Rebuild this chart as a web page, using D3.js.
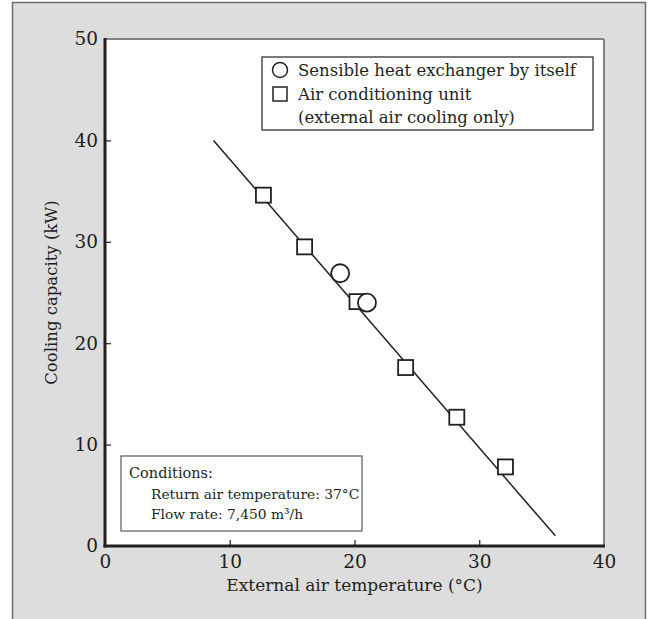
<!DOCTYPE html>
<html><head><meta charset="utf-8">
<script src="https://cdn.jsdelivr.net/npm/d3@7"></script>
<style>html,body{margin:0;padding:0;background:#fff;}svg{display:block;}</style>
</head><body>
<svg id="chart" width="650" height="619"></svg>
<script>
// ---- data ----
const xTicks = [0, 10, 20, 30, 40];
const yTicks = [0, 10, 20, 30, 40, 50];
const squareX = [12.7, 16.0, 20.2, 24.1, 28.2, 32.1];
const squareY = [34.6, 29.5, 24.1, 17.6, 12.7, 7.8];
const circleX = [18.85, 21.0];
const circleY = [26.9, 24.0];
const lineX = [8.7, 36.1];
const lineY = [40.0, 1.0];
const legendLabels = ["Sensible heat exchanger by itself", "Air conditioning unit", "(external air cooling only)"];
const conditionLines = ["Conditions:", "Return air temperature: 37\u00B0C", "Flow rate: 7,450 m\u00B3/h"];
const xTitle = "External air temperature (\u00B0C)";
const yTitle = "Cooling capacity (kW)";

// ---- drawing ----
const FONT = "'DejaVu Serif', serif";
const INK = "#231f20";
const svg = d3.select("#chart");
const x = d3.scaleLinear().domain([0, 40]).range([105, 604]);
const y = d3.scaleLinear().domain([0, 50]).range([546, 39]);

svg.append("rect").attr("x", 12.5).attr("y", 2.5).attr("width", 633).attr("height", 640)
  .attr("fill", "#dcdddc").attr("stroke", "#6d6e71").attr("stroke-width", 1.5);

svg.append("rect").attr("x", x(0)).attr("y", y(50)).attr("width", x(40) - x(0)).attr("height", y(0) - y(50))
  .attr("fill", "#fff");

// frame top/right
svg.append("line").attr("x1", x(0)).attr("x2", x(40)).attr("y1", y(50)).attr("y2", y(50))
  .attr("stroke", "#808285").attr("stroke-width", 2);
svg.append("line").attr("x1", x(40)).attr("x2", x(40)).attr("y1", y(50)).attr("y2", y(0))
  .attr("stroke", "#808285").attr("stroke-width", 2);

const xAxis = svg.append("g").attr("transform", `translate(0,${y(0)})`)
  .call(d3.axisBottom(x).tickValues(xTicks).tickSize(-6).tickPadding(9).tickFormat(d3.format("d")));
const yAxis = svg.append("g").attr("transform", `translate(${x(0)},0)`)
  .call(d3.axisLeft(y).tickValues(yTicks).tickSize(-6).tickPadding(7).tickFormat(d3.format("d")));
[xAxis, yAxis].forEach(g => {
  g.select(".domain").remove();
  g.selectAll(".tick line").attr("stroke", INK).attr("stroke-width", 1.2);
  g.selectAll(".tick text").attr("fill", INK).style("font-family", FONT).style("font-size", "18.5px");
});
xAxis.selectAll(".tick").filter(d => d === 0 || d === 40).select("line").remove();
yAxis.selectAll(".tick").filter(d => d === 0 || d === 50).select("line").remove();

// heavy left/bottom axes
svg.append("line").attr("x1", x(0)).attr("x2", x(0)).attr("y1", y(50) - 1).attr("y2", y(0) + 1.5)
  .attr("stroke", INK).attr("stroke-width", 3);
svg.append("line").attr("x1", x(0) - 1.5).attr("x2", x(40) + 1).attr("y1", y(0)).attr("y2", y(0))
  .attr("stroke", INK).attr("stroke-width", 3);

// titles
svg.append("text").attr("x", (x(0) + x(40)) / 2).attr("y", 591).attr("text-anchor", "middle")
  .attr("fill", INK).style("font-family", FONT).style("font-size", "17px").text(xTitle);
svg.append("text").attr("transform", `translate(57,${(y(0) + y(50)) / 2}) rotate(-90)`).attr("text-anchor", "middle")
  .attr("fill", INK).style("font-family", FONT).style("font-size", "16.5px").text(yTitle);

// fit line
svg.append("line").attr("x1", x(lineX[0])).attr("y1", y(lineY[0])).attr("x2", x(lineX[1])).attr("y2", y(lineY[1]))
  .attr("stroke", INK).attr("stroke-width", 1.5);

// markers
const sq = 15;
svg.selectAll("rect.sq").data(squareX.map((v, i) => [v, squareY[i]])).enter().append("rect")
  .attr("class", "sq").attr("x", d => x(d[0]) - sq / 2).attr("y", d => y(d[1]) - sq / 2)
  .attr("width", sq).attr("height", sq).attr("fill", "#fff").attr("stroke", INK).attr("stroke-width", 1.8);
svg.selectAll("circle.ci").data(circleX.map((v, i) => [v, circleY[i]])).enter().append("circle")
  .attr("class", "ci").attr("cx", d => x(d[0])).attr("cy", d => y(d[1])).attr("r", 9)
  .attr("fill", "#fff").attr("stroke", INK).attr("stroke-width", 1.8);

// legend
svg.append("rect").attr("x", 262).attr("y", 57).attr("width", 331).attr("height", 73)
  .attr("fill", "#fff").attr("stroke", INK).attr("stroke-width", 1.2);
svg.append("circle").attr("cx", 280).attr("cy", 70).attr("r", 7.5).attr("fill", "#fff").attr("stroke", INK).attr("stroke-width", 1.5);
svg.append("rect").attr("x", 273).attr("y", 87).attr("width", 14).attr("height", 14).attr("fill", "#fff").attr("stroke", INK).attr("stroke-width", 1.5);
legendLabels.forEach((t, i) => {
  svg.append("text").attr("x", 298).attr("y", 76 + i * 23.5).attr("fill", INK)
    .style("font-family", FONT).style("font-size", "16.5px").text(t);
});

// conditions box
svg.append("rect").attr("x", 121).attr("y", 456).attr("width", 241).attr("height", 75)
  .attr("fill", "#fff").attr("stroke", "#58595b").attr("stroke-width", 1.2);
conditionLines.forEach((t, i) => {
  svg.append("text").attr("x", i === 0 ? 129 : 151).attr("y", 478 + i * 20.5).attr("fill", INK)
    .style("font-family", FONT).style("font-size", i === 0 ? "14.5px" : "13.8px").text(t);
});
</script>
</body></html>
